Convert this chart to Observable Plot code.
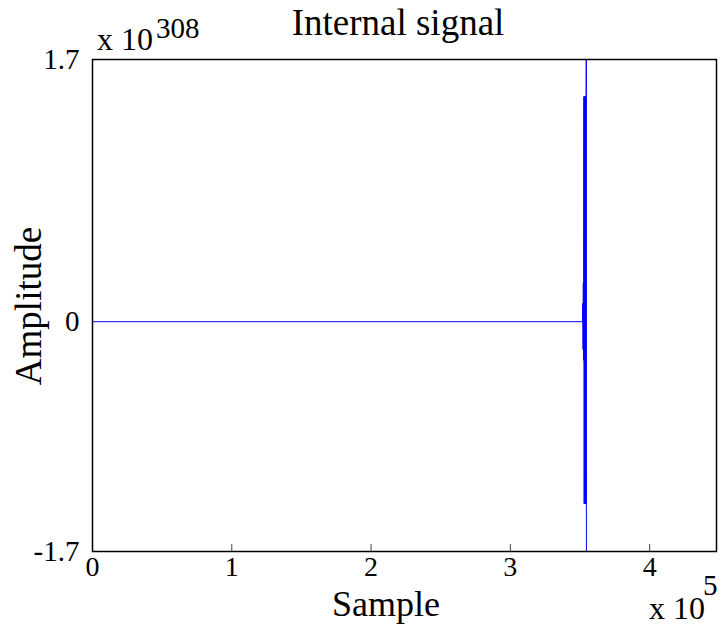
<!DOCTYPE html>
<html><head><meta charset="utf-8">
<script src="https://cdn.jsdelivr.net/npm/d3@7"></script>
<script src="https://cdn.jsdelivr.net/npm/@observablehq/plot@0.6"></script>
<style>body{margin:0;background:#fff} svg{display:block}</style>
</head><body><div id="chart"></div>
<script>
const chartTitle = "Internal signal";
const xLabel = "Sample";
const yLabel = "Amplitude";
const xExponent = "5";
const yExponent = "308";
const xTicks = [0, 100000, 200000, 300000, 400000];
const yTicks = [-1.49, 0, 1.7];
const yTickLabels = ["-1.7", "0", "1.7"];
const xDomain = [0, 448000];
const yDomain = [-1.49, 1.7];
// signal: sample index and amplitude (in units of 1e308)
const sampleIndex = [0, 351800, 352000, 352200, 352400, 352600, 352800, 353000, 353200, 353400, 353600, 353800, 354000, 354200, 354400, 354500, 354600];
const amplitude   = [0, 0, 0.12, -0.18, 0.25, -0.25, 1.46, -1.18, 1.46, -1.18, 1.46, -1.18, 1.46, -1.18, 1.46, 1.7, -1.49];

const W = 721, H = 625, mL = 92, mR = 5, mT = 59, mB = 74;
const innerH = H - mT - mB;
const data = sampleIndex.map((x, i) => ({x, y: amplitude[i]}));
const serif = "'Liberation Serif', 'Times New Roman', serif";

const plot = Plot.plot({
  width: W, height: H,
  marginLeft: mL, marginRight: mR, marginTop: mT, marginBottom: mB,
  style: {fontFamily: serif, background: "white", color: "black", overflow: "visible"},
  x: {domain: xDomain},
  y: {domain: yDomain},
  marks: [
    Plot.line(data, {x: "x", y: "y", stroke: "#0000ff", strokeWidth: 1, clip: true}),
    Plot.ruleX(xTicks.slice(1), {stroke: "#444", strokeWidth: 1, insetTop: innerH - 7}),
    Plot.frame({stroke: "black", strokeWidth: 1.5}),
    Plot.axisX(xTicks, {tickFormat: d => String(d / 1e5), tickSize: 0, tickPadding: 5, fontSize: 28, label: null}),
    Plot.axisY(yTicks, {tickFormat: d => yTickLabels[yTicks.indexOf(d)], tickSize: 0, tickPadding: 13, fontSize: 29, label: null})
  ]
});
document.getElementById("chart").appendChild(plot);

const svg = d3.select(plot);
const t = (x, y, s, size, anchor = "start", rot = 0) => {
  const el = svg.append("text").attr("x", x).attr("y", y).text(s)
    .attr("font-family", serif).attr("font-size", size).attr("fill", "black")
    .attr("text-anchor", anchor);
  if (rot) el.attr("transform", `rotate(${rot},${x},${y})`);
  return el;
};
t(398, 35, chartTitle, 37, "middle");
t(97, 50, "x 10", 32);
t(156, 38, yExponent, 29);
t(386, 616, xLabel, 36, "middle");
t(41, 306, yLabel, 37, "middle", -90);
t(649, 619, "x 10", 32);
t(703, 595, xExponent, 29);
</script>
</body></html>
